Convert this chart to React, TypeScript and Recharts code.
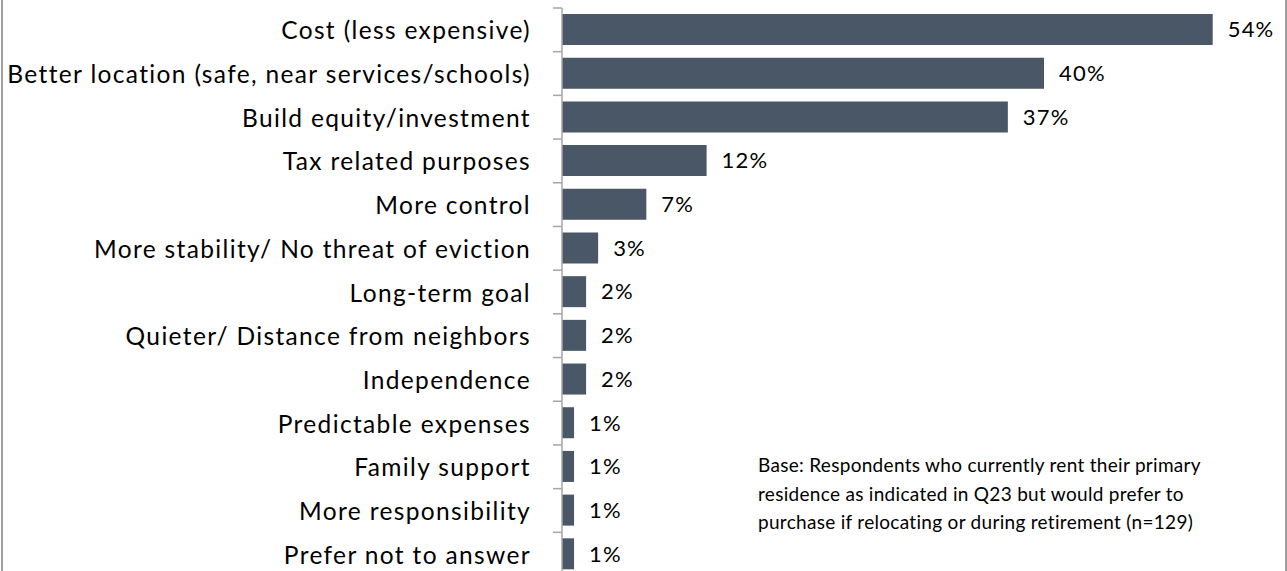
import { BarChart, Bar, XAxis, YAxis, LabelList } from "recharts";

const reasons = [
  "Cost (less expensive)",
  "Better location (safe, near services/schools)",
  "Build equity/investment",
  "Tax related purposes",
  "More control",
  "More stability/ No threat of eviction",
  "Long-term goal",
  "Quieter/ Distance from neighbors",
  "Independence",
  "Predictable expenses",
  "Family support",
  "More responsibility",
  "Prefer not to answer",
];

const shares = [54, 40, 37, 12, 7, 3, 2, 2, 2, 1, 1, 1, 1];

const footnote = [
  "Base: Respondents who currently rent their primary",
  "residence as indicated in Q23 but would prefer to",
  "purchase if relocating or during retirement (n=129)",
];

const data = reasons.map((reason, i) => ({ reason, share: shares[i] }));

const W = 1287;
const H = 571;
const CHART_H = 576;
const TOP = 8;
const BAND = (CHART_H - TOP) / reasons.length;
const FONT = "Lato, 'Noto Sans', sans-serif";

function ReasonTick(props: any) {
  const { x, y, payload } = props;
  return (
    <g>
      <line x1={x - 9} x2={x} y1={y - BAND / 2} y2={y - BAND / 2} stroke="#a6a6a6" strokeWidth={1.5} />
      <text
        x={x - 31}
        y={y}
        textAnchor="end"
        dominantBaseline="central"
        fontSize={24.5}
        letterSpacing={1.35}
        fontFamily={FONT}
        fill="#000"
      >
        {payload.value}
      </text>
    </g>
  );
}

export default function App() {
  return (
    <div
      style={{
        position: "absolute",
        left: 0,
        top: 0,
        width: W,
        height: H,
        overflow: "hidden",
        background: "#fff",
        fontFamily: FONT,
      }}
    >
      <div style={{ position: "absolute", left: 1, top: 0, width: 1.5, height: H, background: "#a0a0a0" }} />
      <div style={{ position: "absolute", left: W - 2, top: 0, width: 1.5, height: H, background: "#a0a0a0" }} />
      <BarChart
        width={W}
        height={CHART_H}
        data={data}
        layout="vertical"
        margin={{ top: TOP, right: 2, left: 0, bottom: 0 }}
      >
        <XAxis type="number" domain={[0, 60]} hide />
        <YAxis
          type="category"
          dataKey="reason"
          width={562}
          axisLine={{ stroke: "#a6a6a6", strokeWidth: 1.5 }}
          tickLine={false}
          tickSize={0}
          tickMargin={0}
          tick={<ReasonTick />}
          interval={0}
        />
        <Bar dataKey="share" fill="#4a5767" barSize={31} isAnimationActive={false}>
          <LabelList
            dataKey="share"
            position="right"
            offset={15}
            formatter={(v: any) => `${v}%`}
            style={{ fontSize: 22, letterSpacing: 1.2, fontFamily: FONT, fill: "#000" }}
          />
        </Bar>
      </BarChart>
      <div
        style={{
          position: "absolute",
          left: 758,
          top: 451,
          fontSize: 19,
          letterSpacing: 0.3,
          lineHeight: "28.5px",
          color: "#000",
        }}
      >
        {footnote.map((line) => (
          <div key={line}>{line}</div>
        ))}
      </div>
    </div>
  );
}
